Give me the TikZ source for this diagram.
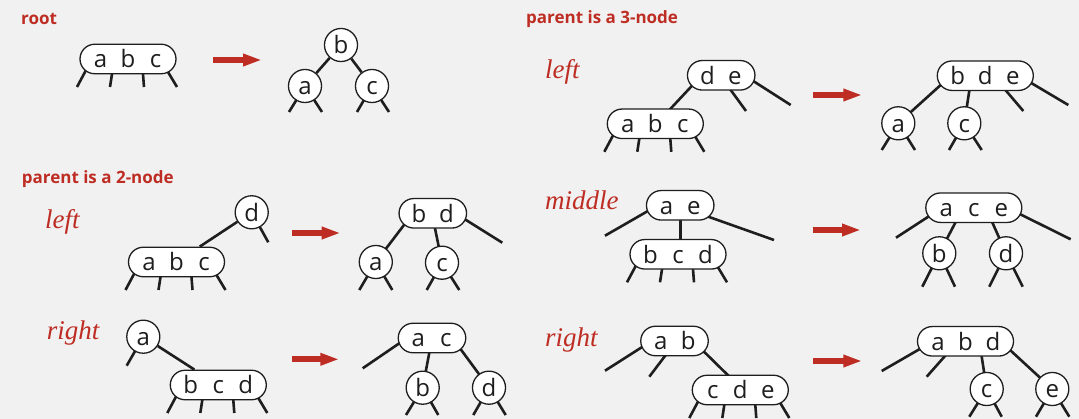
\documentclass[tikz,border=0pt]{standalone}
\usepackage{fontspec}
\usetikzlibrary{arrows.meta}
\newfontfamily\osans{Open Sans}
\newfontfamily\lserif{Liberation Serif}
\newcommand\nodefont{\osans\fontsize{24}{24}\selectfont}
\newcommand\hdrfont{\osans\bfseries\fontsize{17}{17}\selectfont}
\newcommand\casefont{\lserif\itshape\fontsize{27}{27}\selectfont}
\newcommand\kk[1]{\makebox[27.5pt]{\vphantom{bd}#1}}
\definecolor{bgc}{RGB}{241,241,241}
\definecolor{redc}{RGB}{190,45,35}
\definecolor{inkc}{RGB}{30,30,30}
\pgfdeclarelayer{bg}
\pgfdeclarelayer{edges}
\pgfsetlayers{bg,edges,main}
\tikzset{
  edge/.style={line width=2.6pt, draw=inkc},
  leg/.style={edge, shorten <=-6pt},
  knode/.style={draw=inkc, line width=1.3pt, fill=white, inner sep=0pt, font=\nodefont, text=inkc},
  twonode/.style={knode, rectangle, rounded corners=14.75pt, minimum width=67.5pt, minimum height=29.5pt},
  threenode/.style={knode, rectangle, rounded corners=14.75pt, minimum width=96pt, minimum height=29.5pt},
  cnode/.style={knode, circle, minimum size=29.5pt},
  hdr/.style={font=\hdrfont, text=redc, anchor=base west, inner sep=0pt},
  casel/.style={font=\casefont, text=redc, anchor=base west, inner sep=0pt},
  bigarrow/.style={draw=redc, line width=6pt, -{Triangle[length=19pt,width=11.5pt]}}
}
\newcommand\tlegs[1]{%
  \draw[leg] ([shift={(-43,13)}]#1.center) -- ([shift={(-51,28)}]#1.center);
  \draw[leg] ([shift={(-16,15)}]#1.center) -- ([shift={(-18,28)}]#1.center);
  \draw[leg] ([shift={(15,15)}]#1.center) -- ([shift={(16,28)}]#1.center);
  \draw[leg] ([shift={(40,13)}]#1.center) -- ([shift={(49,28)}]#1.center);}
\newcommand\clegs[4]{%
  \draw[edge] (#1.center) -- ([shift={(#2,#4)}]#1.center);
  \draw[edge] (#1.center) -- ([shift={(#3,#4)}]#1.center);}
\begin{document}
\begin{tikzpicture}[x=1pt,y=-1pt]
\useasboundingbox (0,0) rectangle (1079,419);
\begin{pgfonlayer}{bg}
\fill[bgc] (0,0) rectangle (1079,419);
\end{pgfonlayer}

% labels
\node[hdr] (hroot) at (21,24.5) {root};
\node[hdr] (h2) at (21.7,184) {parent is a 2-node};
\node[hdr] (h3) at (526,24) {parent is a 3-node};
\node[casel] (cl2) at (45,228.3) {left};
\node[casel] (cr2) at (46.7,339.8) {right};
\node[casel] (cl3) at (545,78.3) {left};
\node[casel] (cm3) at (545,209.3) {middle};
\node[casel] (cr3) at (545,346.7) {right};

% root
\node[threenode] (rABC) at (128,59) {\kk{a}\kk{b}\kk{c}};
\node[cnode] (rb) at (341,45) {\kk{b}};
\node[cnode] (ra) at (305,86) {\kk{a}};
\node[cnode] (rc) at (372,86) {\kk{c}};

% parent 2-node, left
\node[cnode] (L2d) at (251.7,212.3) {\kk{d}};
\node[threenode] (L2abc) at (176.5,262) {\kk{a}\kk{b}\kk{c}};
\node[twonode] (L2bd) at (432.8,213.3) {\kk{b}\kk{d}};
\node[cnode] (L2a) at (375.8,262) {\kk{a}};
\node[cnode] (L2c) at (442,262.7) {\kk{c}};

% parent 2-node, right
\node[cnode] (R2a) at (143.3,336.7) {\kk{a}};
\node[threenode] (R2bcd) at (218.3,385) {\kk{b}\kk{c}\kk{d}};
\node[twonode] (R2ac) at (432,338) {\kk{a}\kk{c}};
\node[cnode] (R2b) at (422.7,387.7) {\kk{b}};
\node[cnode] (R2d) at (489,387.7) {\kk{d}};

% parent 3-node, left
\node[twonode] (L3de) at (721.2,75.3) {\kk{d}\kk{e}};
\node[threenode] (L3abc) at (655.3,123.8) {\kk{a}\kk{b}\kk{c}};
\node[threenode] (L3bde) at (985.3,75.7) {\kk{b}\kk{d}\kk{e}};
\node[cnode] (L3a) at (898.3,123.3) {\kk{a}};
\node[cnode] (L3c) at (964.3,123.3) {\kk{c}};

% parent 3-node, middle
\node[twonode] (M3ae) at (680.2,205.3) {\kk{a}\kk{e}};
\node[threenode] (M3bcd) at (678,254.3) {\kk{b}\kk{c}\kk{d}};
\node[threenode] (M3ace) at (973.8,207.7) {\kk{a}\kk{c}\kk{e}};
\node[cnode] (M3b) at (939.3,253.3) {\kk{b}};
\node[cnode] (M3d) at (1006,253.3) {\kk{d}};

% parent 3-node, right
\node[twonode] (R3ab) at (674.5,341) {\kk{a}\kk{b}};
\node[threenode] (R3cde) at (740.3,390) {\kk{c}\kk{d}\kk{e}};
\node[threenode] (R3abd) at (965.5,341.3) {\kk{a}\kk{b}\kk{d}};
\node[cnode] (R3c) at (986.7,389) {\kk{c}};
\node[cnode] (R3e) at (1052.3,389) {\kk{e}};

% transformation arrows
\draw[bigarrow] (213,60) -- (262,60);
\draw[bigarrow] (292,233) -- (340.7,233);
\draw[bigarrow] (291.7,359.3) -- (339.3,359.3);
\draw[bigarrow] (813.3,95) -- (862.3,95);
\draw[bigarrow] (812.7,230) -- (861,230);
\draw[bigarrow] (813.3,361) -- (862.3,361);

\begin{pgfonlayer}{edges}
% root
\tlegs{rABC}
\draw[edge] (rb) -- (ra);
\draw[edge] (rb) -- (rc);
\clegs{ra}{-16}{17}{26}
\clegs{rc}{-15}{17}{26}
% 2-node left
\draw[edge] (L2abc) -- (L2d);
\draw[edge] (L2d.center) -- ([shift={(16.6,30)}]L2d.center);
\tlegs{L2abc}
\draw[leg] ([shift={(-28.8,11.7)}]L2bd.center) -- (L2a.center);
\draw[leg] ([shift={(2.2,15)}]L2bd.center) -- (L2c.center);
\draw[leg] ([shift={(33.2,6.7)}]L2bd.center) -- ([shift={(69.5,29.4)}]L2bd.center);
\clegs{L2a}{-16.5}{16.5}{28}
\clegs{L2c}{-15.3}{17.3}{27.3}
% 2-node right
\draw[edge] (R2a) -- (R2bcd);
\draw[edge] (R2a.center) -- ([shift={(-16.6,29)}]R2a.center);
\tlegs{R2bcd}
\draw[leg] ([shift={(-32.7,5.3)}]R2ac.center) -- ([shift={(-69.3,30.3)}]R2ac.center);
\draw[leg] ([shift={(-2.7,14.7)}]R2ac.center) -- (R2b.center);
\draw[leg] ([shift={(28,10.3)}]R2ac.center) -- (R2d.center);
\clegs{R2b}{-16.7}{15.6}{27.3}
\clegs{R2d}{-15.7}{16.7}{27.3}
% 3-node left
\draw[leg, shorten >=-6pt] ([shift={(-28.5,9.7)}]L3de.center) -- ([shift={(14.7,-14.5)}]L3abc.center);
\draw[leg] ([shift={(9.5,14.7)}]L3de.center) -- ([shift={(24.8,35.7)}]L3de.center);
\draw[leg] ([shift={(33.1,6.4)}]L3de.center) -- ([shift={(69.5,29.7)}]L3de.center);
\tlegs{L3abc}
\draw[leg] ([shift={(-44.6,9.3)}]L3bde.center) -- (L3a.center);
\draw[leg] ([shift={(-16,15)}]L3bde.center) -- (L3c.center);
\draw[leg] ([shift={(20.7,15)}]L3bde.center) -- ([shift={(38,35.3)}]L3bde.center);
\draw[leg] ([shift={(46.4,7.6)}]L3bde.center) -- ([shift={(83,29.3)}]L3bde.center);
\clegs{L3a}{-16.6}{16.7}{26.7}
\clegs{L3c}{-15.3}{17.4}{26.7}
% 3-node middle
\draw[leg] ([shift={(-33.5,6.4)}]M3ae.center) -- ([shift={(-75.2,30.4)}]M3ae.center);
\draw[edge] ([shift={(0,10)}]M3ae.center) -- ([shift={(2.2,-10)}]M3bcd.center);
\draw[leg] ([shift={(28.1,11.4)}]M3ae.center) -- ([shift={(93.8,34.7)}]M3ae.center);
\tlegs{M3bcd}
\draw[leg] ([shift={(-45.5,9)}]M3ace.center) -- ([shift={(-77.8,30)}]M3ace.center);
\draw[leg] ([shift={(-18.8,15.6)}]M3ace.center) -- (M3b.center);
\draw[leg] ([shift={(18.9,15.6)}]M3ace.center) -- (M3d.center);
\draw[leg] ([shift={(47.9,7.3)}]M3ace.center) -- ([shift={(96.9,31.6)}]M3ace.center);
\clegs{M3b}{-17}{15.7}{33.4}
\clegs{M3d}{-16.7}{16.7}{33.4}
% 3-node right
\draw[leg] ([shift={(-32.8,6.3)}]R3ab.center) -- ([shift={(-69.5,29.7)}]R3ab.center);
\draw[leg] ([shift={(-9.5,15)}]R3ab.center) -- ([shift={(-25.2,35.7)}]R3ab.center);
\draw[leg, shorten >=-6pt] ([shift={(29.5,10.7)}]R3ab.center) -- ([shift={(-13.6,-16)}]R3cde.center);
\tlegs{R3cde}
\draw[leg] ([shift={(-46.2,8)}]R3abd.center) -- ([shift={(-83.8,29.7)}]R3abd.center);
\draw[leg] ([shift={(-20.5,14.7)}]R3abd.center) -- ([shift={(-38.8,35.4)}]R3abd.center);
\draw[leg] ([shift={(16.2,15.4)}]R3abd.center) -- (R3c.center);
\draw[leg] ([shift={(44.5,8.7)}]R3abd.center) -- (R3e.center);
\clegs{R3c}{-17.4}{15}{27.7}
\clegs{R3e}{-16.3}{17}{27.7}
\end{pgfonlayer}
\end{tikzpicture}
\end{document}
